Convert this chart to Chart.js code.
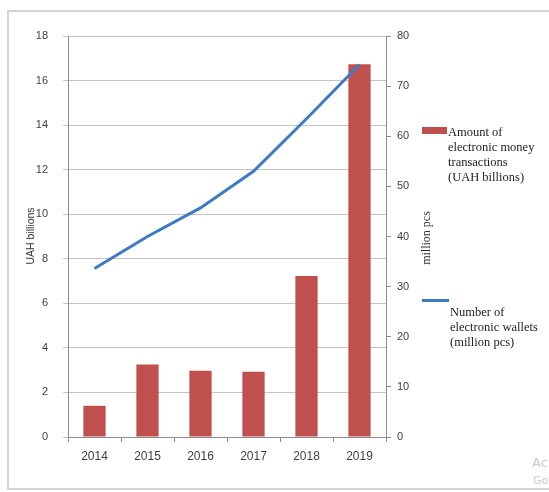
<!DOCTYPE html>
<html>
<head>
<meta charset="utf-8">
<script src="https://cdn.jsdelivr.net/npm/chart.js@4"></script>
<style>
  body { margin: 0; background: #fff; }
  #wrap { position: relative; width: 549px; height: 492px; overflow: hidden; }
  canvas { position: absolute; left: 0; top: 0; }
  .leg { position: absolute; font-family: "Liberation Serif", serif; font-size: 12.5px; line-height: 15px; color: #222; white-space: nowrap; }
  .key { position: absolute; }
  .wm { position: absolute; font-family: "DejaVu Sans", sans-serif; font-size: 13px; color: #c9c9c9; }
</style>
</head>
<body>
<div id="wrap">
  <canvas id="canvasChart" width="549" height="492"></canvas>
</div>
<script>
var years = ["2014", "2015", "2016", "2017", "2018", "2019"];
var transactions = [1.4, 3.25, 2.97, 2.93, 7.23, 16.73];
var wallets = [33.6, 40, 45.7, 53, 63.5, 74.3];

var barLabel = ["Amount of", "electronic money", "transactions", "(UAH billions)"];
var lineLabel = ["Number of", "electronic wallets", "(million pcs)"];

var barColor = "#c0504d";
var lineColor = "#3d7bc4";

// frame + both axis titles (both read bottom to top)
var extras = {
    id: "extras",
    beforeDraw: function(chart) {
        var ctx = chart.ctx;
        ctx.save();
        ctx.fillStyle = "#fff";
        ctx.fillRect(0, 0, chart.width, chart.height);
        ctx.strokeStyle = "#d4d4d4";
        ctx.lineWidth = 2;
        ctx.strokeRect(8, 11, 560, 478);
        ctx.restore();
    },
    afterDraw: function(chart) {
        var ctx = chart.ctx;
        ctx.save();
        ctx.translate(427, 238);
        ctx.rotate(-Math.PI / 2);
        ctx.font = "12px 'Liberation Serif'";
        ctx.fillStyle = "#333";
        ctx.textAlign = "center";
        ctx.textBaseline = "middle";
        ctx.fillText("million pcs", 0, 0);
        ctx.restore();

        ctx.save();
        ctx.translate(31, 236);
        ctx.rotate(-Math.PI / 2);
        ctx.font = "10.5px 'Liberation Sans'";
        ctx.fillStyle = "#333";
        ctx.textAlign = "center";
        ctx.textBaseline = "middle";
        ctx.fillText("UAH billions", 0, 0);
        ctx.restore();
    }
};

var tickFont = { family: "Liberation Sans", size: 11 };

var ctx = document.getElementById("canvasChart").getContext("2d");
var chart = new Chart(ctx, {
    type: "bar",
    data: {
        labels: years,
        datasets: [
            {
                type: "line",
                label: lineLabel.join(" "),
                data: wallets,
                yAxisID: "y2",
                borderColor: lineColor,
                backgroundColor: lineColor,
                borderWidth: 3,
                pointRadius: 0,
                tension: 0,
                fill: false,
                order: 0
            },
            {
                type: "bar",
                label: barLabel.join(" "),
                data: transactions,
                yAxisID: "y",
                backgroundColor: barColor,
                barPercentage: 0.42,
                categoryPercentage: 1,
                order: 1
            }
        ]
    },
    options: {
        responsive: false,
        animation: false,
        layout: { padding: { left: 8, top: 36, right: 0, bottom: 5 } },
        plugins: {
            legend: { display: false },
            tooltip: { enabled: false }
        },
        scales: {
            x: {
                grid: { drawOnChartArea: false, drawTicks: true, tickLength: 5, color: "#8c8c8c" },
                border: { color: "#8c8c8c" },
                ticks: { font: { family: "Liberation Sans", size: 12 }, color: "#404040", padding: 7 },
                afterFit: function(s) { s.height = 50; }
            },
            y: {
                position: "left",
                min: 0, max: 18,
                ticks: { stepSize: 2, font: tickFont, color: "#404040", padding: 15 },
                grid: { color: "#c4c4c4", tickLength: 5 },
                border: { color: "#8c8c8c" },
                afterFit: function(s) { s.width = 60; }
            },
            y2: {
                position: "right",
                min: 0, max: 80,
                ticks: { stepSize: 10, font: tickFont, color: "#404040", padding: 6 },
                grid: { drawOnChartArea: false, color: "#8c8c8c", tickLength: 5 },
                border: { color: "#8c8c8c" },
                afterFit: function(s) { s.width = 163; }
            }
        }
    },
    plugins: [extras]
});

// legend boxes built from the label lines and dataset colours
var wrap = document.getElementById("wrap");
function addLegend(lines, color, keyStyle, textX, textY) {
    var key = document.createElement("div");
    key.className = "key";
    key.style.background = color;
    for (var k in keyStyle) key.style[k] = keyStyle[k];
    wrap.appendChild(key);
    var t = document.createElement("div");
    t.className = "leg";
    t.style.left = textX + "px";
    t.style.top = textY + "px";
    t.innerHTML = lines.join("<br>");
    wrap.appendChild(t);
}
addLegend(barLabel, barColor, { left: "422px", top: "127px", width: "25px", height: "7px" }, 448, 125);
addLegend(lineLabel, lineColor, { left: "422px", top: "299px", width: "27px", height: "3px" }, 450, 305);

var wm1 = document.createElement("div");
wm1.className = "wm"; wm1.style.left = "532px"; wm1.style.top = "455px"; wm1.textContent = "Ac";
wrap.appendChild(wm1);
var wm2 = document.createElement("div");
wm2.className = "wm"; wm2.style.left = "533px"; wm2.style.top = "474px"; wm2.style.fontSize = "11px"; wm2.textContent = "Go";
wrap.appendChild(wm2);
</script>
</body>
</html>
